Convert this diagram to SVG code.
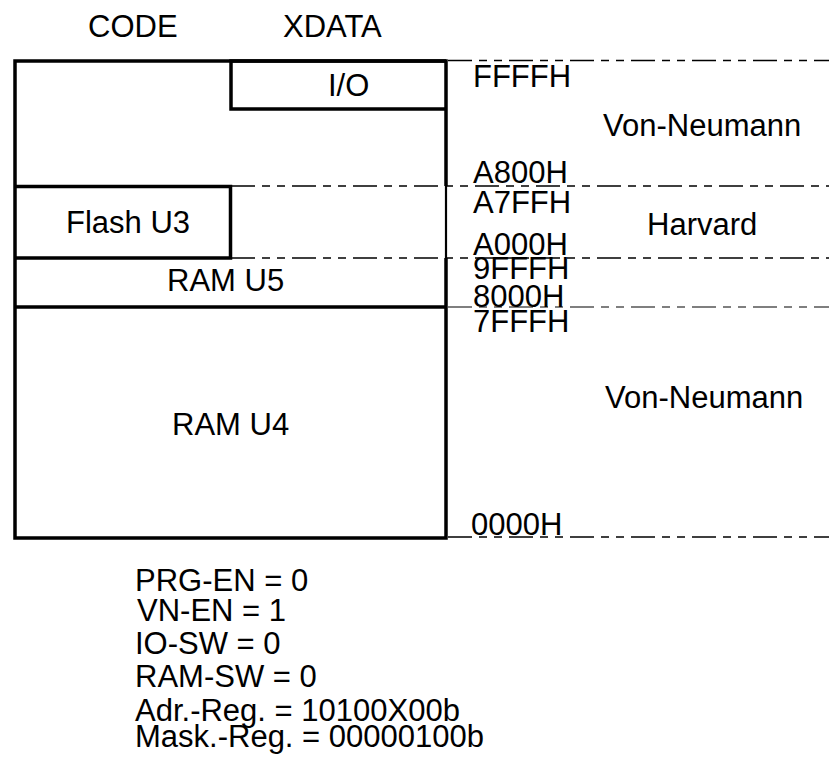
<svg xmlns="http://www.w3.org/2000/svg" width="829" height="770" viewBox="0 0 829 770">
<style>
text{font-family:"Liberation Sans",Arial,sans-serif;font-size:31px;fill:#000}
.box{fill:none;stroke:#000;stroke-width:3.5}
.thin{fill:none;stroke:#000;stroke-width:2.2}
.dash{fill:none;stroke:#000;stroke-width:1.3;stroke-dasharray:24 7 8 7 8 7}
</style>
<rect width="829" height="770" fill="#fff"/>
<g id="headers">
<text x="88" y="37">CODE</text>
<text x="283" y="37">XDATA</text>
</g>
<g id="memory-space">
<path class="box" d="M446,186 V61 H15 V538 H446 V258"/>
<path class="thin" d="M446,186 V258"/>
</g>
<g id="io">
<path class="box" d="M446,61 H231 V109 H446"/>
<text x="328" y="96">I/O</text>
</g>
<g id="flash-u3">
<path class="box" d="M15,186.5 H230.5 V258 H15"/>
<text x="66" y="233">Flash U3</text>
</g>
<g id="ram-u5">
<path class="box" d="M15,307 H446"/>
<text x="167" y="291">RAM U5</text>
</g>
<g id="ram-u4">
<text x="172" y="435">RAM U4</text>
</g>
<g id="connectors">
<line class="dash" x1="448" y1="60.5" x2="829" y2="60.5"/>
<line class="dash" x1="231" y1="186" x2="829" y2="186"/>
<line class="dash" x1="231" y1="258" x2="829" y2="258"/>
<line class="dash" x1="448" y1="307" x2="829" y2="307" style="stroke:#555"/>
<line class="dash" x1="448" y1="537" x2="829" y2="537"/>
</g>
<g id="addresses">
<text x="473" y="87">FFFFH</text>
<text x="473" y="183">A800H</text>
<text x="473" y="213">A7FFH</text>
<text x="473" y="255">A000H</text>
<text x="473" y="279">9FFFH</text>
<text x="473" y="307">8000H</text>
<text x="473" y="332">7FFFH</text>
<text x="471" y="535">0000H</text>
</g>
<g id="modes">
<text x="603" y="136">Von-Neumann</text>
<text x="647" y="235">Harvard</text>
<text x="605" y="408">Von-Neumann</text>
</g>
<g id="settings">
<text x="135" y="591">PRG-EN = 0</text>
<text x="137" y="621">VN-EN = 1</text>
<text x="135" y="654">IO-SW = 0</text>
<text x="135" y="687">RAM-SW = 0</text>
<text x="135" y="721">Adr.-Reg. = 10100X00b</text>
<text x="135" y="747">Mask.-Reg. = 00000100b</text>
</g>
</svg>
